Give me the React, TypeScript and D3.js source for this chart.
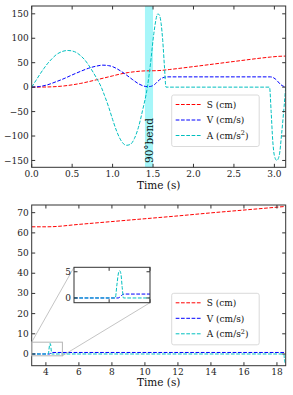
import React, { useRef, useEffect } from 'react';
import * as d3 from 'd3';

// upper panel: first move, 0 .. 3.14 s
const topS: [number, number][] = [
  [0, 0], [0.2, 0.4], [0.4, 2.5], [0.6, 7.5], [0.8, 15], [1.0, 23], [1.1, 27], [1.2, 30],
  [1.3, 32], [1.4, 33.3], [1.5, 33.5], [1.6, 34.2], [1.7, 36], [2.0, 42], [2.5, 52.5],
  [2.95, 61.5], [3.05, 63], [3.14, 63.5],
];
const topV: [number, number][] = [
  [0, 0], [0.1, 1.3], [0.2, 5], [0.3, 11], [0.4, 17.5], [0.5, 25], [0.6, 32], [0.7, 38.5],
  [0.8, 43], [0.88, 45], [0.95, 44], [1.0, 42], [1.05, 38], [1.1, 33], [1.17, 25], [1.25, 15],
  [1.32, 7], [1.38, 2.5], [1.43, 1], [1.47, 1.5], [1.52, 5.5], [1.56, 12], [1.6, 17.5],
  [1.64, 20.2], [1.68, 21], [2.5, 21], [2.95, 21], [2.98, 20], [3.01, 17], [3.04, 12],
  [3.08, 5], [3.11, 2], [3.14, 0.5],
];
const topA: [number, number][] = [
  [0, 0], [0.05, 13], [0.1, 26], [0.15, 38], [0.2, 49], [0.25, 58], [0.3, 66], [0.35, 71],
  [0.4, 74], [0.45, 75], [0.5, 74], [0.55, 71], [0.6, 65], [0.65, 57], [0.7, 46], [0.75, 33],
  [0.8, 19], [0.86, 0], [0.9, -17], [0.95, -40], [1.0, -66], [1.05, -90], [1.1, -108],
  [1.17, -119], [1.22, -117], [1.27, -105], [1.32, -82], [1.37, -48], [1.43, 0], [1.47, 50],
  [1.51, 110], [1.56, 150], [1.58, 147], [1.6, 130], [1.62, 95], [1.64, 45], [1.66, 0],
  [2.5, 0], [2.94, 0], [2.96, -50], [2.98, -110], [3.0, -140], [3.03, -150], [3.06, -140],
  [3.09, -95], [3.12, -40], [3.14, 0],
];
const topXTicks = [0, 0.5, 1.0, 1.5, 2.0, 2.5, 3.0];
const topYTicks = [-150, -100, -50, 0, 50, 100, 150];
const bend = [1.4, 1.5];

// lower panel: second move, 3.14 .. 18.5 s
const botS: [number, number][] = [
  [3.14, 63], [4.0, 63], [4.35, 63.05], [6, 64.2], [8, 65.6], [10, 67], [12, 68.4],
  [14, 69.9], [16, 71.3], [18.53, 73.1],
];
const botV: [number, number][] = [
  [3.14, 0], [4.22, 0], [4.26, 0.15], [4.3, 0.45], [4.34, 0.7], [4.38, 0.75], [18.53, 0.75],
];
const botA: [number, number][] = [
  [3.14, 0], [4.15, 0], [4.19, 2.5], [4.23, 4.8], [4.26, 5.2], [4.29, 4.5], [4.32, 2],
  [4.35, 0], [18.42, 0], [18.45, -2.5], [18.5, -4.5], [18.53, -5],
];
const botXTicks = [4, 6, 8, 10, 12, 14, 16, 18];
const botYTicks = [0, 10, 20, 30, 40, 50, 60, 70];
const insetXTicks = [4, 5];
const insetYTicks = [0, 5];

const legendNames = ['S (cm)', 'V (cm/s)', 'A (cm/s2)'];
const colors = ['#ff0000', '#0000ff', '#00bfbf'];

const FONT = "'DejaVu Serif', serif";
const DASH = '3.7,1.6';

const App = () => {
  const ref = useRef(null);

  useEffect(() => {
    const svg = d3.select(ref.current);
    svg.selectAll('*').remove();
    svg.append('rect').attr('width', 293).attr('height', 395).attr('fill', '#fff');

    const fmt1 = (d) => d3.format('.1f')(d);
    const fmtInt = (d) => (d < 0 ? '\u2212' + Math.abs(d) : String(d));

    const lineFor = (x, y) => d3.line().x(d => x(d[0])).y(d => y(d[1])).curve(d3.curveMonotoneX);

    const clip = (id, x, y) => {
      svg.append('clipPath').attr('id', id).append('rect')
        .attr('x', x.range()[0]).attr('y', y.range()[1])
        .attr('width', x.range()[1] - x.range()[0]).attr('height', y.range()[0] - y.range()[1]);
    };

    const series = (id, x, y, data) => {
      data.forEach((s, i) => {
        svg.append('path').attr('d', lineFor(x, y)(s)).attr('fill', 'none')
          .attr('stroke', colors[i]).attr('stroke-width', 1).attr('stroke-dasharray', DASH)
          .attr('clip-path', `url(#${id})`);
      });
    };

    const frame = (x, y, xt, yt, xf, yf, labels, fs = 9) => {
      const [l, r] = x.range();
      const [b, t] = y.range();
      const g = svg.append('g');
      const tl = 3.5;
      xt.forEach(v => {
        const px = x(v);
        g.append('line').attr('x1', px).attr('x2', px).attr('y1', b).attr('y2', b - tl).attr('stroke', '#333');
        g.append('line').attr('x1', px).attr('x2', px).attr('y1', t).attr('y2', t + tl).attr('stroke', '#333');
        if (labels) g.append('text').attr('x', px).attr('y', b + 9.5).attr('text-anchor', 'middle')
          .style('font', `${fs}px ${FONT}`).attr('fill', '#222').text(xf(v));
      });
      yt.forEach(v => {
        const py = y(v);
        g.append('line').attr('x1', l).attr('x2', l + tl).attr('y1', py).attr('y2', py).attr('stroke', '#333');
        g.append('line').attr('x1', r).attr('x2', r - tl).attr('y1', py).attr('y2', py).attr('stroke', '#333');
        g.append('text').attr('x', l - 3).attr('y', py).attr('dy', '0.34em').attr('text-anchor', 'end')
          .style('font', `${fs}px ${FONT}`).attr('fill', '#222').text(yf(v));
      });
      g.append('rect').attr('x', l).attr('y', t).attr('width', r - l).attr('height', b - t)
        .attr('fill', 'none').attr('stroke', '#333').attr('stroke-width', 1);
    };

    const legend = (lx, ly) => {
      const g = svg.append('g').attr('transform', `translate(${lx},${ly})`);
      g.append('rect').attr('width', 87.5).attr('height', 51.5).attr('rx', 2)
        .attr('fill', '#fff').attr('fill-opacity', 0.85).attr('stroke', '#d0d0d0').attr('stroke-width', 0.8);
      legendNames.forEach((n, i) => {
        const yy = 9.5 + i * 15.5;
        g.append('line').attr('x1', 4).attr('x2', 30).attr('y1', yy).attr('y2', yy)
          .attr('stroke', colors[i]).attr('stroke-width', 1).attr('stroke-dasharray', DASH);
        const txt = g.append('text').attr('x', 35).attr('y', yy + 3.3).style('font', `9px ${FONT}`).attr('fill', '#111');
        if (n.endsWith('2)')) {
          txt.append('tspan').text('A (cm/s');
          txt.append('tspan').attr('dy', -3.5).style('font-size', '6.5px').text('2');
          txt.append('tspan').attr('dy', 3.5).text(')');
        } else txt.text(n);
      });
    };

    // ---- upper panel
    const x1 = d3.scaleLinear().domain([0, 3.14]).range([31.7, 285.7]);
    const y1 = d3.scaleLinear().domain([-164, 166]).range([167.3, 6]);
    clip('c1', x1, y1);
    svg.append('rect').attr('x', x1(bend[0])).attr('y', y1.range()[1])
      .attr('width', x1(bend[1]) - x1(bend[0])).attr('height', y1.range()[0] - y1.range()[1])
      .attr('fill', '#00e5ee').attr('fill-opacity', 0.35);
    series('c1', x1, y1, [topS, topV, topA]);
    svg.append('text').attr('transform', `translate(${x1(1.45) + 4.5},163) rotate(-90)`)
      .style('font', `10.5px ${FONT}`).attr('fill', '#111').text('90°bend');
    frame(x1, y1, topXTicks, topYTicks, fmt1, fmtInt, true);
    legend(171.7, 95);
    svg.append('text').attr('x', 158.7).attr('y', 188.5).attr('text-anchor', 'middle')
      .style('font', `10.5px ${FONT}`).attr('fill', '#111').text('Time (s)');

    // ---- lower panel
    const x2 = d3.scaleLinear().domain([3.14, 18.53]).range([31.7, 285.7]);
    const y2 = d3.scaleLinear().domain([-5.8, 73.8]).range([365.7, 205]);
    clip('c2', x2, y2);
    series('c2', x2, y2, [botS, botV, botA]);
    frame(x2, y2, botXTicks, botYTicks, String, fmtInt, true);
    legend(171.7, 293.3);
    svg.append('text').attr('x', 158.7).attr('y', 386).attr('text-anchor', 'middle')
      .style('font', `10.5px ${FONT}`).attr('fill', '#111').text('Time (s)');

    // ---- zoomed inset
    const xi = d3.scaleLinear().domain([3.14, 5.0]).range([74, 150]);
    const yi = d3.scaleLinear().domain([-0.9, 5.85]).range([302.7, 267.3]);
    const rx0 = x2(xi.domain()[0]), rx1 = x2(xi.domain()[1]);
    const ry0 = y2(yi.domain()[1]), ry1 = y2(yi.domain()[0]);
    svg.append('rect').attr('x', rx0).attr('y', ry0).attr('width', rx1 - rx0).attr('height', ry1 - ry0)
      .attr('fill', 'none').attr('stroke', '#b5b5b5').attr('stroke-width', 1);
    svg.append('line').attr('x1', rx0).attr('y1', ry0).attr('x2', xi.range()[0]).attr('y2', yi.range()[1])
      .attr('stroke', '#b5b5b5').attr('stroke-width', 0.8);
    svg.append('line').attr('x1', rx1).attr('y1', ry1).attr('x2', xi.range()[1]).attr('y2', yi.range()[0])
      .attr('stroke', '#b5b5b5').attr('stroke-width', 0.8);
    svg.append('rect').attr('x', 74).attr('y', 267.3).attr('width', 76).attr('height', 35.4).attr('fill', '#fff');
    clip('c3', xi, yi);
    series('c3', xi, yi, [botS, botV, botA]);
    frame(xi, yi, insetXTicks, insetYTicks, String, fmtInt, false);
  }, []);

  return <svg ref={ref} width={293} height={395} style={{ position: 'absolute', left: 0, top: 0 }} />;
};

export default App;
